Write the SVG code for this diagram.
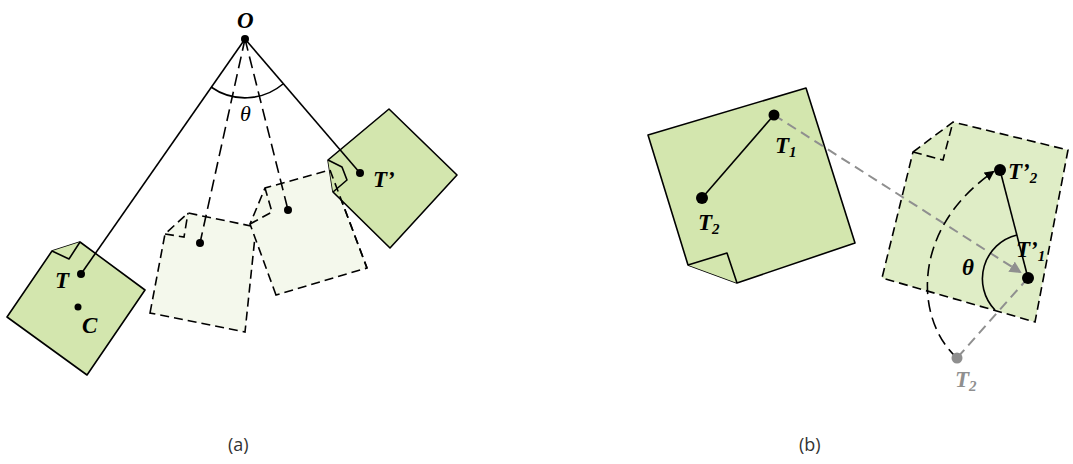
<svg xmlns="http://www.w3.org/2000/svg" width="1073" height="464" viewBox="0 0 1073 464">
<style>
.note{fill:#d3e6ae;stroke:#000;stroke-width:1.6;stroke-linejoin:round}
.ghost{fill:#f4f8ec;stroke:#000;stroke-width:1.6;stroke-dasharray:9 5}
.ghostline{fill:none;stroke:#000;stroke-width:1.6;stroke-dasharray:9 5}
.ghost2{fill:#dfedc6;stroke:#000;stroke-width:1.6;stroke-dasharray:9 5}
.ln{stroke:#000;stroke-width:1.6;fill:none}
.dl{stroke:#000;stroke-width:1.6;fill:none;stroke-dasharray:12 6}
.gl{stroke:#8f8f8f;stroke-width:2;fill:none;stroke-dasharray:10 6}
.lbl{font-family:"Liberation Serif",serif;font-weight:bold;font-style:italic;font-size:23px}
.cap{font-family:"Open Sans",sans-serif;font-size:18px;fill:#333}
</style>
<defs>
<marker id="ab" markerWidth="10" markerHeight="10" refX="8" refY="5" orient="auto" markerUnits="userSpaceOnUse"><path d="M0,0 L10,5 L0,10 z" fill="#000"/></marker>
<marker id="ag" markerWidth="12" markerHeight="12" refX="10" refY="6" orient="auto" markerUnits="userSpaceOnUse"><path d="M0,0 L12,6 L0,12 z" fill="#8f8f8f"/></marker>
</defs>

<g id="ghost1">
<path class="ghost" d="M150,313 L165,234 L188,213 L256,227 L245,332 Z"/>
<path class="ghostline" d="M165,234 L184,237 L188,213"/>
</g>
<g id="ghost2">
<path class="ghost" d="M276,295 L250,224 L265,188 L330,170 L367,268 Z"/>
<path class="ghostline" d="M250,224 L272,212 L265,188"/>
</g>
<g id="note-T">
<path class="note" d="M7,317 L52,251 L80,242 L145,290 L87,375 Z"/>
<path class="note" d="M52,251 L69,259 L80,242"/>
</g>
<g id="note-Tp">
<path class="note" d="M389,109 L457,175 L390,248 L333,192 L328,160 Z"/>
<path class="note" d="M328,160 L342,167 L347,180 L333,192" fill="none"/>
<path class="ghostline" d="M330,170 L367,268"/>
</g>

<g id="connectors-a">
<line class="ln" x1="245" y1="39" x2="81" y2="274"/>
<line class="ln" x1="245" y1="39" x2="360" y2="173"/>
<line class="dl" x1="245" y1="39" x2="200" y2="243"/>
<line class="dl" x1="245" y1="39" x2="288" y2="210"/>
<path class="ln" d="M211,87 A59,59 0 0 0 283,84"/>
</g>

<g id="points-a">
<circle cx="245" cy="39" r="4"/>
<circle cx="81" cy="274" r="4"/>
<circle cx="78" cy="307" r="3.5"/>
<circle cx="200" cy="243" r="4"/>
<circle cx="288" cy="210" r="4"/>
<circle cx="360" cy="173" r="4"/>
<text class="lbl" x="237" y="28">O</text>
<text class="lbl" x="55" y="288">T</text>
<text class="lbl" x="82" y="333">C</text>
<text class="lbl" x="373" y="187">T’</text>
<text x="240" y="121" font-family="Liberation Serif,serif" font-style="italic" font-size="22">θ</text>
</g>

<g id="note-b1">
<path class="note" d="M648,135 L806,88 L855,243 L737,283 L688,265 Z"/>
<path class="note" d="M688,265 L727,253 L737,283"/>
</g>
<g id="note-b2">
<path class="ghost2" d="M913,152 L953,122 L1068,150 L1035,322 L882,278 Z"/>
<path class="ghostline" d="M913,152 L943,160 L953,122"/>
</g>

<g id="connectors-b">
<line class="ln" x1="774" y1="115" x2="702" y2="198"/>
<line class="gl" x1="774" y1="115" x2="1020" y2="272" marker-end="url(#ag)"/>
<line class="gl" x1="1028" y1="278" x2="957" y2="358"/>
<line class="ln" x1="1028" y1="278" x2="1000" y2="170"/>
<path class="ln" d="M1017,235 A45,45 0 0 0 995,310"/>
<path class="dl" d="M957,358 C915,320 910,230 993,172" marker-end="url(#ab)"/>
</g>

<g id="points-b">
<circle cx="774" cy="115" r="5.5"/>
<circle cx="702" cy="198" r="6"/>
<circle cx="1000" cy="170" r="6"/>
<circle cx="1028" cy="278" r="6"/>
<circle cx="957" cy="358" r="5.5" fill="#8f8f8f"/>
<text class="lbl" x="775" y="153">T<tspan font-size="15" dy="4">1</tspan></text>
<text class="lbl" x="698" y="230">T<tspan font-size="15" dy="4">2</tspan></text>
<text class="lbl" x="1008" y="179">T’<tspan font-size="15" dy="4">2</tspan></text>
<text class="lbl" x="1016" y="257">T’<tspan font-size="15" dy="4">1</tspan></text>
<text class="lbl" x="962" y="275">θ</text>
<text class="lbl" x="955" y="387" fill="#8f8f8f">T<tspan font-size="15" dy="4">2</tspan></text>
</g>

<text class="cap" x="228" y="451">(a)</text>
<text class="cap" x="799" y="451">(b)</text>
</svg>
